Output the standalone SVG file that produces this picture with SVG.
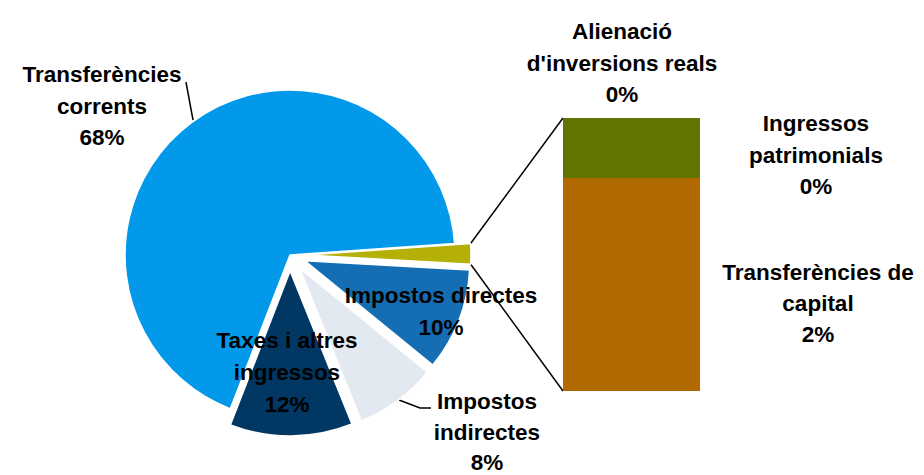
<svg xmlns="http://www.w3.org/2000/svg" width="924" height="475" viewBox="0 0 924 475">
<style>
.s{stroke:#fff;stroke-width:1.5;stroke-linejoin:round}
.lbl{font-family:"Liberation Sans",Arial,sans-serif;font-weight:bold;font-size:22.5px;fill:#000;text-anchor:middle}
.ln{stroke:#000;stroke-width:1.5;fill:none}
</style>
<rect width="924" height="475" fill="#fff"/>
<g id="connectors">
<line class="ln" x1="470.6" y1="243.5" x2="563" y2="118"/>
<line class="ln" x1="470.7" y1="264.2" x2="563" y2="391"/>
<line class="ln" x1="186" y1="82" x2="193" y2="120"/>
<polyline class="ln" points="399,400 420,408 431,408"/>
</g>
<g id="transferencies-corrents">
<path class="s" fill="#0399EB" d="M290,255 L230.33,408.83 A165,165 0 1 1 454.60,243.49 Z"/>
<text class="lbl" x="102" y="82">Transferències</text>
<text class="lbl" x="102" y="114">corrents</text>
<text class="lbl" x="102" y="145">68%</text>
</g>
<g id="altres-capital">
<path class="s" fill="#B4B005" d="M306,255 L470.60,243.49 A165,165 0 0 1 470.74,264.21 Z"/>
</g>
<g id="impostos-directes">
<path class="s" fill="#156EB4" d="M304.92,260.79 L469.66,270.00 A165,165 0 0 1 432.78,365.07 Z"/>
<text class="lbl" x="441" y="303">Impostos directes</text>
<text class="lbl" x="441" y="335">10%</text>
</g>
<g id="impostos-indirectes">
<path class="s" fill="#E3E9F0" d="M299.49,267.88 L427.35,372.16 A165,165 0 0 1 361.30,420.87 Z"/>
<text class="lbl" x="487" y="409">Impostos</text>
<text class="lbl" x="487" y="440">indirectes</text>
<text class="lbl" x="487" y="470">8%</text>
</g>
<g id="taxes">
<path class="s" fill="#003763" d="M290.11,271 L351.92,423.99 A165,165 0 0 1 230.44,424.83 Z"/>
<text class="lbl" x="287" y="348">Taxes i altres</text>
<text class="lbl" x="287" y="380">ingressos</text>
<text class="lbl" x="287" y="412">12%</text>
</g>
<g id="ingressos-patrimonials">
<rect x="563" y="118" width="137" height="60" fill="#617600"/>
<text class="lbl" x="816" y="131">Ingressos</text>
<text class="lbl" x="816" y="163">patrimonials</text>
<text class="lbl" x="816" y="194">0%</text>
</g>
<g id="transferencies-capital">
<rect x="563" y="178" width="137" height="213" fill="#B06A00"/>
<text class="lbl" x="818" y="280">Transferències de</text>
<text class="lbl" x="818" y="311">capital</text>
<text class="lbl" x="818" y="342">2%</text>
</g>
<g id="alienacio">
<text class="lbl" x="622" y="39">Alienació</text>
<text class="lbl" x="622" y="71">d'inversions reals</text>
<text class="lbl" x="622" y="102">0%</text>
</g>
</svg>
